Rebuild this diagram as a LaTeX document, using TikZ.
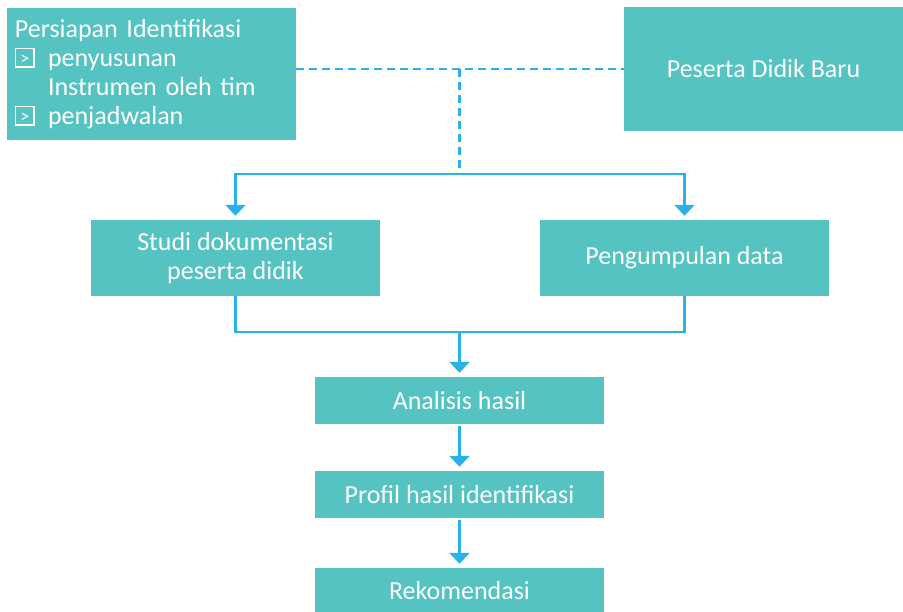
\documentclass[tikz,border=0pt]{standalone}
\usepackage{fontspec}
\setmainfont{Carlito}
\usepackage{xcolor}
\usetikzlibrary{arrows.meta,calc,positioning}
\definecolor{FlowTeal}{HTML}{55C3C1}
\definecolor{FlowBlue}{HTML}{29B2E8}
\newcommand{\boxbullet}{{\setlength{\fboxsep}{0pt}\setlength{\fboxrule}{1.3pt}%
  \raisebox{0pt}{\fbox{\rule{0pt}{17pt}\makebox[17pt]{\fontsize{18}{18}\selectfont\raisebox{2pt}{>}}}}}}

\begin{document}
\begin{tikzpicture}[x=1pt,y=-1pt,
    tealbox/.style={fill=FlowTeal,text=white,inner sep=0pt,
      minimum width=289pt,align=center,
      font=\fontsize{26}{29}\selectfont},
    flowline/.style={FlowBlue,line width=2.6pt},
    flowarrow/.style={flowline,-{Triangle[width=20pt,length=11pt]},shorten >=4pt},
    dashlink/.style={FlowBlue,line width=2.6pt,dash pattern=on 8pt off 5pt}]

        \useasboundingbox (0,0) rectangle (903,612);

        \node[tealbox,minimum height=132pt,align=left,
          text width=273pt,inner xsep=8pt]
          (prep) at (151.5,74)
          {Persiapan Identifikasi\\
           \makebox[33pt][l]{\boxbullet}penyusunan\\
           \hspace*{33pt}Instrumen oleh tim\\
           \makebox[33pt][l]{\boxbullet}penjadwalan};

        \node[tealbox,minimum width=279pt,minimum height=124pt]
          (baru) at (763.5,69) {Peserta Didik Baru};

        \node[tealbox,minimum height=76pt]
          (studi) at (235.5,258) {Studi dokumentasi\\peserta didik};

        \node[tealbox,minimum height=76pt]
          (kumpul) at (684.5,258) {Pengumpulan data};

        \node[tealbox,minimum height=47pt]
          (analisis) at (459.5,400.5) {Analisis hasil};

        \node[tealbox,minimum height=47pt]
          (profil) at (459.5,494.5) {Profil hasil identifikasi};

        \node[tealbox,minimum height=45pt]
          (rekom) at (459.5,590.5) {Rekomendasi};

        \coordinate (join) at (459.5,69);
        \coordinate (split) at (459.5,174);
        \coordinate (merge) at (459.5,332);

        % dashed links from the two top boxes
        \draw[dashlink] (prep.east |- baru.west) -- (baru.west);
        \draw[dashlink] (join) -- (split);

        \draw[flowarrow] (split) -| (studi.north);
        \draw[flowarrow] (split) -| (kumpul.north);

        \draw[flowline] (studi.south) |- (merge) -| (kumpul.south);
        \draw[flowarrow] (merge) -- (analisis.north);

        \draw[flowarrow,shorten <=2pt] (analisis.south) -- (profil.north);
        \draw[flowarrow,shorten <=2pt] (profil.south) -- (rekom.north);

      \end{tikzpicture}
\end{document}
